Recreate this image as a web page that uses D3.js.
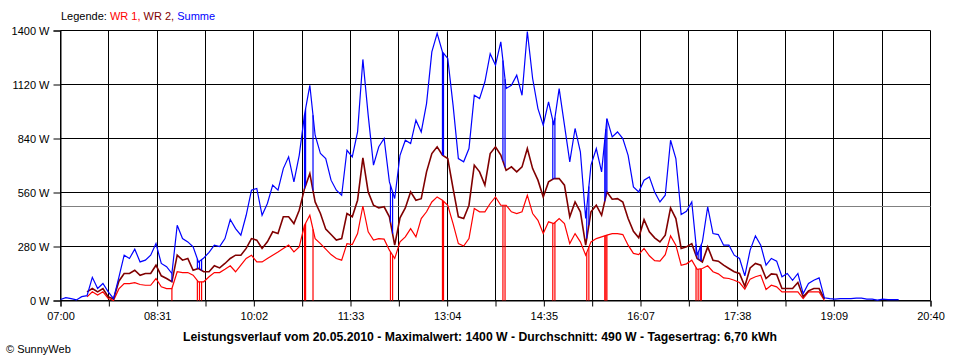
<!DOCTYPE html>
<html><head><meta charset="utf-8">
<script src="https://cdn.jsdelivr.net/npm/d3@7"></script>
<style>
body{margin:0;background:#fff}
svg{display:block}
text{font-family:"Liberation Sans",Arial,sans-serif}
</style>
</head><body><svg id="chart" width="960" height="360"></svg>
<script>
// ---- data ----
const startTime = "07:00";
const endTime = "20:40";
const stepMinutes = 5;

const summe = [5,15,10,3,20,25,120,62,88,45,10,120,235,218,266,200,209,235,295,192,
175,140,390,321,304,278,200,220,250,287,280,321,420,373,339,442,572,581,442,503,
598,572,684,745,615,753,964,1116,857,762,736,624,572,546,779,745,874,1250,961,702,
797,840,615,529,753,831,814,935,874,1021,1289,1385,1289,1255,1013,736,719,788,1064,1047,
1134,1280,1220,1341,1099,1116,1168,1064,1395,1151,995,909,1030,909,1099,909,719,892,771,425,
702,788,667,943,848,874,840,753,589,563,624,641,563,511,546,831,736,446,463,511,
235,304,486,347,342,287,287,235,218,128,261,335,287,183,218,204,123,140,105,140,
36,88,105,117,14,10,7,10,10,10,12,12,7,7,2,7,5,5,5,null,null,null,null,null,null];

const wr1 = [null,null,null,null,null,19,45,28,45,10,0,60,88,88,93,83,79,79,114,71,
62,62,149,145,145,131,97,97,123,145,145,162,180,149,183,218,235,200,200,218,
235,252,270,287,252,278,391,442,321,295,266,238,218,209,295,290,347,490,356,313,
321,318,261,218,304,330,373,330,425,460,511,537,520,494,399,295,282,321,477,460,
460,503,537,494,494,460,451,460,546,451,416,347,408,399,425,399,295,347,304,235,
304,321,330,339,347,347,342,287,244,238,270,232,207,204,238,335,287,183,190,209,
162,166,180,149,138,117,114,105,93,59,111,123,131,57,79,71,45,45,45,45,
10,45,45,45,0,null,null,null,null,null,null,null,null,null,null,null,null,null,null,null,
null,null,null,null,null];

const wr2 = [null,null,null,null,null,45,62,45,62,19,8,100,140,140,157,131,140,140,183,128,
114,97,235,209,218,157,166,149,149,180,169,192,218,235,235,270,321,313,270,304,
356,347,434,434,399,468,580,658,511,451,370,342,313,321,451,434,520,740,563,494,
480,486,434,287,429,480,563,520,528,667,762,797,754,736,581,434,425,494,702,667,
598,762,797,754,675,693,667,693,788,684,624,537,615,632,632,598,434,511,460,287,
460,494,442,563,525,528,511,425,359,325,419,356,325,304,339,480,425,270,278,295,
218,200,278,209,204,183,166,149,140,74,169,192,183,114,138,135,62,62,62,93,
19,50,62,62,7,null,null,null,null,null,null,null,null,null,null,null,null,null,null,null,
null,null,null,null,null];

// times when WR 1 briefly dropped to 0 W
const wr1Dropouts = ["08:45","09:09","09:11","09:13","10:50","10:51","10:58","12:11","12:13",
"13:00","13:01","13:57","13:59","14:44","14:46","15:16","15:18","15:33","15:34","15:35",
"16:59","17:01","17:03","17:04"];

const yTicks = [0,280,560,840,1120,1400];
const xTickLabels = ["07:00","08:31","10:02","11:33","13:04","14:35","16:07","17:38","19:09","20:40"];
const average = 490;
const legendItems = [
  {label:"Legende: ", color:"#000000"},
  {label:"WR 1, ", color:"#ff0000"},
  {label:"WR 2, ", color:"#800000"},
  {label:"Summe", color:"#0000ff"}
];
const titleText = "Leistungsverlauf vom 20.05.2010 - Maximalwert: 1400 W - Durchschnitt: 490 W - Tagesertrag: 6,70 kWh";
const copyrightText = "\u00A9 SunnyWeb";

// ---- helpers ----
const toMin = s => { const [h,m] = s.split(":").map(Number); return h*60+m; };
const t0 = toMin(startTime), t1 = toMin(endTime);
const timeOf = i => t0 + i*stepMinutes;

function interp(arr, m){
  const f = (m - t0)/stepMinutes;
  const i = Math.floor(f), fr = f - i;
  const a = arr[i], b = arr[i+1];
  if (a == null) return b;
  if (b == null) return a;
  return a + (b-a)*fr;
}

// ---- chart ----
const svg = d3.select("#chart");
const L = 60.5, R = 930.5, T = 30.5, B = 300.5;
const x = d3.scaleLinear().domain([t0, t1]).range([L, R]);
const y = d3.scaleLinear().domain([0, 1400]).range([B, T]);

const nGrid = 18;
const gridTimes = d3.range(nGrid+1).map(k => t0 + k*(t1-t0)/nGrid);

// grid
const grid = svg.append("g");
grid.selectAll("line.v").data(gridTimes).join("line")
  .attr("x1", d => Math.round(x(d)-0.5)+0.5).attr("x2", d => Math.round(x(d)-0.5)+0.5)
  .attr("y1", T).attr("y2", B).attr("stroke","#000").attr("stroke-width",1);
grid.selectAll("line.h").data(yTicks).join("line")
  .attr("x1", L).attr("x2", R)
  .attr("y1", d => y(d)).attr("y2", d => y(d)).attr("stroke","#000").attr("stroke-width",1);

// average line
svg.append("line")
  .attr("x1", L).attr("x2", R)
  .attr("y1", Math.round(y(average)-0.5)+0.5).attr("y2", Math.round(y(average)-0.5)+0.5)
  .attr("stroke","#808080").attr("stroke-width",1);

// axes
const yAxis = d3.axisLeft(y).tickValues(yTicks).tickFormat(d => d + " W").tickSize(7).tickPadding(4);
const gy = svg.append("g").attr("transform", `translate(${L},0)`).call(yAxis);
const xAxis = d3.axisBottom(x).tickValues(gridTimes)
  .tickFormat((d,i) => i % 2 === 0 ? xTickLabels[i/2] : "").tickSize(6).tickPadding(6);
const gx = svg.append("g").attr("transform", `translate(0,${B})`).call(xAxis);
[gx, gy].forEach(g => {
  g.select(".domain").attr("stroke","#000");
  g.selectAll(".tick line").attr("stroke","#000");
  g.selectAll("text").attr("fill","#000").style("font-size","11px")
    .style("font-family","'Liberation Sans',Arial,sans-serif");
});
gx.selectAll(".tick line").attr("transform", function(){
  return "";
});

// series
const lineGen = arr => d3.line()
  .defined(d => d != null)
  .x((d,i) => x(timeOf(i)))
  .y(d => y(d))(arr);

const series = [
  {data: wr1, color:"#ff0000", w:1.2},
  {data: wr2, color:"#800000", w:1.6},
  {data: summe, color:"#0000ff", w:1.2}
];

// dropout spikes of WR 1 (down to 0) and the matching dips of the sum (down to WR 2)
const dropMins = wr1Dropouts.map(toMin);
svg.append("g").selectAll("line").data(dropMins).join("line")
  .attr("x1", d => x(d)).attr("x2", d => x(d))
  .attr("y1", d => y(interp(wr1, d))).attr("y2", y(0))
  .attr("stroke","#ff0000").attr("stroke-width",1.2);

series.forEach(s => {
  svg.append("path").attr("d", lineGen(s.data))
    .attr("fill","none").attr("stroke", s.color).attr("stroke-width", s.w)
    .attr("stroke-linejoin","miter");
});

svg.append("g").selectAll("line").data(dropMins).join("line")
  .attr("x1", d => x(d)).attr("x2", d => x(d))
  .attr("y1", d => y(interp(summe, d))).attr("y2", d => y(interp(wr2, d)))
  .attr("stroke","#0000ff").attr("stroke-width",1.2);

// legend
const leg = svg.append("text").attr("x", 61).attr("y", 20).style("font-size","11px");
legendItems.forEach(it => leg.append("tspan").attr("fill", it.color).text(it.label));

// title
svg.append("text").attr("x", 480).attr("y", 341).attr("text-anchor","middle")
  .style("font-size","12px").style("font-weight","bold")
  .attr("textLength", 594).attr("lengthAdjust","spacingAndGlyphs")
  .text(titleText);

// copyright
svg.append("text").attr("x", 6).attr("y", 353).style("font-size","11px").text(copyrightText);
</script>
</body></html>
